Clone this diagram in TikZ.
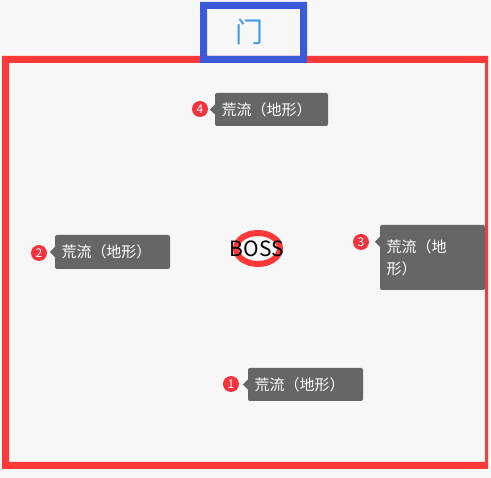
\documentclass[tikz,border=0pt]{standalone}
\usepackage{fontspec}
\newfontfamily\cjk{Noto Sans CJK SC}
\definecolor{paper}{HTML}{F7F7F7}
\definecolor{arena}{HTML}{FF3838}
\definecolor{doorblue}{HTML}{3A5AD8}
\definecolor{doortext}{HTML}{3D9BE9}
\definecolor{tipgray}{HTML}{666666}
\definecolor{badgered}{HTML}{F5333F}
\tikzstyle{tip}=[fill=tipgray, rounded corners=2pt, text=white, inner sep=0pt, align=left,
  font=\cjk\fontsize{15}{22}\selectfont]
\tikzstyle{badge}=[circle, fill=badgered, text=white, inner sep=0pt, minimum size=16pt,
  font=\cjk\fontsize{12}{12}\selectfont]

\begin{document}
\begin{tikzpicture}[x=1pt, y=-1pt]
\useasboundingbox[fill=paper] (0,0) rectangle (491,478);
% Arena and door
    \fill[arena, even odd rule] (2,56) rectangle (488,469) (9,63) rectangle (485,462);
    \fill[doorblue, even odd rule] (200,2) rectangle (307,63) (207,9) rectangle (300,56);
    \node[text=doortext, font=\cjk\fontsize{28}{28}\selectfont] (door) at (249,32) {门};
% Boss
    \draw[arena, line width=6pt] (258,248.5) ellipse (22 and 15.5);
    \node[font=\cjk\fontsize{21}{21}\selectfont] (boss) at (257,249) {BOSS};
% Terrain tips
    \node[tip, minimum width=113pt, minimum height=33pt, text width=100pt] (tip4) at (271.5,109.5) {荒流（地形）};
    \node[tip, minimum width=115pt, minimum height=34pt, text width=102pt] (tip2) at (112.5,252) {荒流（地形）};
    \node[tip, minimum width=105pt, minimum height=65pt, text width=92pt] (tip3) at (432.5,257.5) {荒流（地\\形）};
    \node[tip, minimum width=115pt, minimum height=33pt, text width=102pt] (tip1) at (305.5,384.5) {荒流（地形）};
    \fill[tipgray] (tip4.west) ++(0,-5) -- ++(-5,5) -- ++(5,5) -- cycle;
    \fill[tipgray] (tip2.west) ++(0,-5) -- ++(-5,5) -- ++(5,5) -- cycle;
    \fill[tipgray] (tip3.north west) ++(0,12) -- ++(-5,5) -- ++(5,5) -- cycle;
    \fill[tipgray] (tip1.west) ++(0,-5) -- ++(-5,5) -- ++(5,5) -- cycle;
% Numbers
    \node[badge] (num4) at (200,109) {4};
    \node[badge] (num2) at (39,253) {2};
    \node[badge] (num3) at (361,242) {3};
    \node[badge] (num1) at (231,384) {1};
\end{tikzpicture}
\end{document}
